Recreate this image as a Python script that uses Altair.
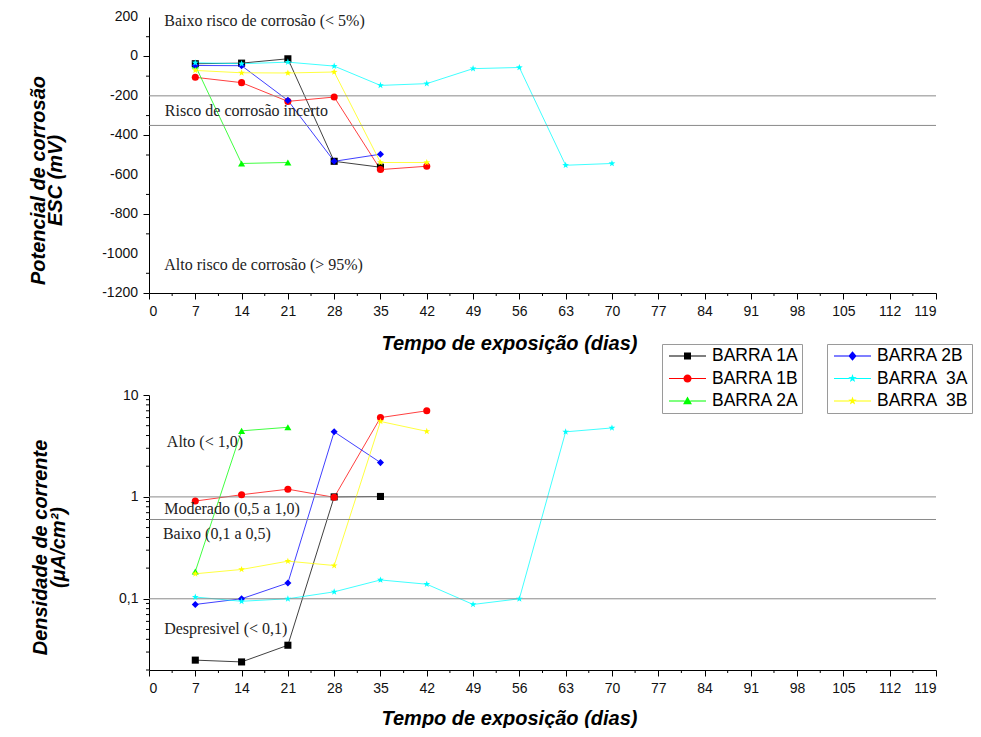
import altair as alt
import pandas as pd

# ---------------- data ----------------
series = ["BARRA 1A", "BARRA 1B", "BARRA 2A", "BARRA 2B", "BARRA 3A", "BARRA 3B"]
legend_labels = ["BARRA 1A", "BARRA 1B", "BARRA 2A", "BARRA 2B", "BARRA \u00a03A", "BARRA \u00a03B"]
colors = ["#000000", "#ff0000", "#00ff00", "#0000ff", "#00ffff", "#ffff00"]

dias_1A = [7, 14, 21, 28, 35]
dias_1B = [7, 14, 21, 28, 35, 42]
dias_2A = [7, 14, 21]
dias_2B = [7, 14, 21, 28, 35]
dias_3A = [7, 14, 21, 28, 35, 42, 49, 56, 63, 70]
dias_3B = [7, 14, 21, 28, 35, 42]

# corrosion potential (mV, ESC)
pot_1A = [-37, -34, -12, -532, -562]
pot_1B = [-106, -133, -228, -206, -574, -557]
pot_2A = [-46, -543, -538]
pot_2B = [-46, -47, -223, -532, -496]
pot_3A = [-32, -37, -29, -49, -147, -138, -62, -56, -552, -543]
pot_3B = [-71, -83, -84, -79, -538, -538]

# current density (uA/cm2)
cd_1A = [0.025, 0.024, 0.035, 1.0, 1.01]
cd_1B = [0.91, 1.05, 1.19, 0.99, 6.0, 7.0]
cd_2A = [0.185, 4.45, 4.82]
cd_2B = [0.088, 0.1, 0.143, 4.35, 2.17]
cd_3A = [0.104, 0.0945, 0.1, 0.117, 0.153, 0.139, 0.088, 0.1, 4.35, 4.75]
cd_3B = [0.176, 0.194, 0.234, 0.212, 5.5, 4.4]

pot_limits = [-200, -350]
cd_limits = [1.0, 0.6, 0.1]

pot_ann_text = ["Baixo risco de corrosão (< 5%)", "Risco de corrosão incerto", "Alto risco de corrosão (> 95%)"]
pot_ann_x = [2.3, 2.4, 2.3]
pot_ann_y = [182, -278, -1058]

cd_ann_text = ["Alto (< 1,0)", "Moderado (0,5 a 1,0)", "Baixo (0,1 a 0,5)", "Despresivel (< 0,1)"]
cd_ann_x = [2.7, 2.3, 2.1, 2.3]
cd_ann_y = [3.42, 0.758, 0.433, 0.051]

# axis ticks / tick labels
x_major = list(range(0, 120, 7))
x_minor = [v + 3.5 for v in range(0, 119, 7)]
pot_major = [-1200, -1000, -800, -600, -400, -200, 0, 200]
pot_labels = ["-1200", "-1000", "-800", "-600", "-400", "-200", "0", "200"]
pot_minor = [-1100, -900, -700, -500, -300, -100, 100]
cd_major = [0.1, 1, 10]
cd_minor = [0.02, 0.03, 0.04, 0.05, 0.06, 0.07, 0.08, 0.09,
            0.2, 0.3, 0.4, 0.5, 0.6, 0.7, 0.8, 0.9,
            2, 3, 4, 5, 6, 7, 8, 9]

# ---------------- shapes ----------------
STAR = ("M0,-1L0.235,-0.324L0.951,-0.309L0.38,0.124L0.588,0.809L0,0.4"
        "L-0.588,0.809L-0.38,0.124L-0.951,-0.309L-0.235,-0.324Z")
shapes = ["square", "circle", "triangle-up", "diamond", STAR, STAR]

LINE = "M-1,-0.027H-0.15V0.027H-1Z M0.15,-0.027H1V0.027H0.15Z "
L_SQ = LINE + "M-0.19,-0.19H0.19V0.19H-0.19Z"
L_CI = LINE + "M-0.22,0A0.22,0.22 0 1,1 0.22,0A0.22,0.22 0 1,1 -0.22,0Z"
L_TR = LINE + "M0,-0.24L0.24,0.18L-0.24,0.18Z"
L_DI = LINE + "M0,-0.26L0.22,0L0,0.26L-0.22,0Z"
L_ST = LINE + ("M0,-0.24L0.056,-0.078L0.228,-0.074L0.091,0.03L0.141,0.194L0,0.096"
               "L-0.141,0.194L-0.091,0.03L-0.228,-0.074L-0.056,-0.078Z")
legend_shapes = [L_SQ, L_CI, L_TR, L_DI, L_ST, L_ST]


def long_frame(values):
    dias = [dias_1A, dias_1B, dias_2A, dias_2B, dias_3A, dias_3B]
    rows = []
    for s, d, v in zip(series, dias, values):
        for di, vi in zip(d, v):
            rows.append({"serie": s, "dia": di, "v": vi})
    return pd.DataFrame(rows)


df_pot = long_frame([pot_1A, pot_1B, pot_2A, pot_2B, pot_3A, pot_3B])
df_cd = long_frame([cd_1A, cd_1B, cd_2A, cd_2B, cd_3A, cd_3B])

SANS = "Liberation Sans"
SERIF = "Liberation Serif"
W = 787


def common_axis(**kw):
    return alt.Axis(
        tickSize=6, labelOverlap=False, grid=False,
        domainColor="black", tickColor="black",
        labelFont=SANS, labelFontSize=14, labelColor="#111", labelPadding=5,
        titleFont=SANS, titleFontSize=20, titleFontStyle="italic", titleFontWeight="bold",
        titleColor="black", titleBaseline="alphabetic", titleAlign="center",
        **kw,
    )


xscale = alt.Scale(domain=[0, 119], nice=False)
color_scale = alt.Scale(domain=series, range=colors)
shape_scale = alt.Scale(domain=series, range=shapes)


def build_panel(df, yscale, yaxis, xaxis, ymin, yminor, limits, ann, extra=()):
    X = lambda f: alt.X(f, scale=xscale, axis=xaxis)
    Y = lambda f: alt.Y(f, scale=yscale, axis=yaxis)
    lines = alt.Chart(df).mark_line(strokeWidth=1, opacity=0.75).encode(
        x=X("dia:Q"), y=Y("v:Q"),
        color=alt.Color("serie:N", scale=color_scale, legend=None),
    )
    rules = alt.Chart(pd.DataFrame({"v": limits})).mark_rule(color="#8a8a8a", strokeWidth=1).encode(
        y=Y("v:Q")
    )
    points = alt.Chart(df).mark_point(filled=True, size=50, opacity=1).encode(
        x=X("dia:Q"), y=Y("v:Q"),
        color=alt.Color("serie:N", scale=color_scale, legend=None),
        shape=alt.Shape("serie:N", scale=shape_scale, legend=None),
    )
    texts = alt.Chart(pd.DataFrame({"t": ann[0], "x": ann[1], "v": ann[2]})).mark_text(
        align="left", baseline="middle", font=SERIF, fontSize=16, color="#222"
    ).encode(x=X("x:Q"), y=Y("v:Q"), text="t:N")
    xt = alt.Chart(pd.DataFrame({"dia": x_minor})).mark_rule(color="black", strokeWidth=1, y2Offset=3).encode(
        x=X("dia:Q"),
        y=alt.datum(ymin),
        y2=alt.datum(ymin),
    )
    yt = alt.Chart(pd.DataFrame({"v": yminor})).mark_rule(color="black", strokeWidth=1, x2Offset=-3).encode(
        y=Y("v:Q"),
        x=alt.datum(0),
        x2=alt.datum(0),
    )
    return alt.layer(lines, rules, points, texts, xt, yt, *extra)


# ---------------- top chart ----------------
pot_y = alt.Scale(domain=[-1200, 200], nice=False)
pot_y_axis = common_axis(
    values=pot_major, labels=False,
    title=["Potencial de corrosão", "ESC (mV)"],
    titleX=-105, titleY=163, titleLineHeight=17,
)
top_x_axis = common_axis(values=x_major, title="Tempo de exposição (dias)", titleX=360, titleY=56)
pot_tick_labels = alt.Chart(pd.DataFrame({"v": pot_major, "t": pot_labels})).mark_text(
    align="right", baseline="middle", font=SANS, fontSize=14, color="#111", dx=-11
).encode(
    x=alt.datum(0),
    y=alt.Y("v:Q", scale=pot_y, axis=pot_y_axis),
    text="t:N",
)
top = build_panel(df_pot, pot_y, pot_y_axis, top_x_axis, -1200, pot_minor, pot_limits,
                  (pot_ann_text, pot_ann_x, pot_ann_y), extra=(pot_tick_labels,)).properties(width=W, height=276)

# ---------------- bottom chart ----------------
cd_y = alt.Scale(type="log", domain=[0.02, 10], nice=False)
cd_y_axis = common_axis(
    values=cd_major, labelExpr="datum.value == 0.1 ? '0,1' : '' + datum.value",
    title=["Densidade de corrente", "(\u03bcA/cm\u00b2)"],
    titleX=-103, titleY=152, titleLineHeight=18,
)
bot_x_axis = common_axis(values=x_major, title="Tempo de exposição (dias)", titleX=360, titleY=54)


def legend_layer(idx, lx):
    labs = [legend_labels[i] for i in idx]
    leg = alt.Legend(
        orient="none", legendX=lx, legendY=-51, title=None,
        symbolSize=1369, clipHeight=18, rowPadding=4.5, padding=3,
        symbolOffset=4, labelOffset=6, symbolStrokeWidth=0, symbolOpacity=1,
        labelFont=SANS, labelFontSize=17.5, labelColor="black",
        strokeColor="#9a9a9a", fillColor="white",
    )
    return alt.Chart(pd.DataFrame({"leg": labs})).transform_filter("false").mark_point(
        filled=True, size=1369, opacity=1
    ).encode(
        color=alt.Color("leg:N", scale=alt.Scale(domain=labs, range=[colors[i] for i in idx]), legend=leg),
        shape=alt.Shape("leg:N", scale=alt.Scale(domain=labs, range=[legend_shapes[i] for i in idx]), legend=leg),
    )


legA = legend_layer([0, 1, 2], 513)
legB = legend_layer([3, 4, 5], 678)

bottom = build_panel(df_cd, cd_y, cd_y_axis, bot_x_axis, 0.02, cd_minor, cd_limits,
                     (cd_ann_text, cd_ann_x, cd_ann_y), extra=(legA, legB)).resolve_scale(
    color="independent", shape="independent"
).properties(width=W, height=275)

chart = alt.vconcat(top, bottom, spacing=102, bounds="flush").resolve_scale(
    color="independent", shape="independent"
).properties(
    padding={"left": 20, "top": 2, "right": 0, "bottom": 0}
).configure_view(strokeWidth=0)

chart.save("out.html", embed_options={"renderer": "svg", "actions": False})
